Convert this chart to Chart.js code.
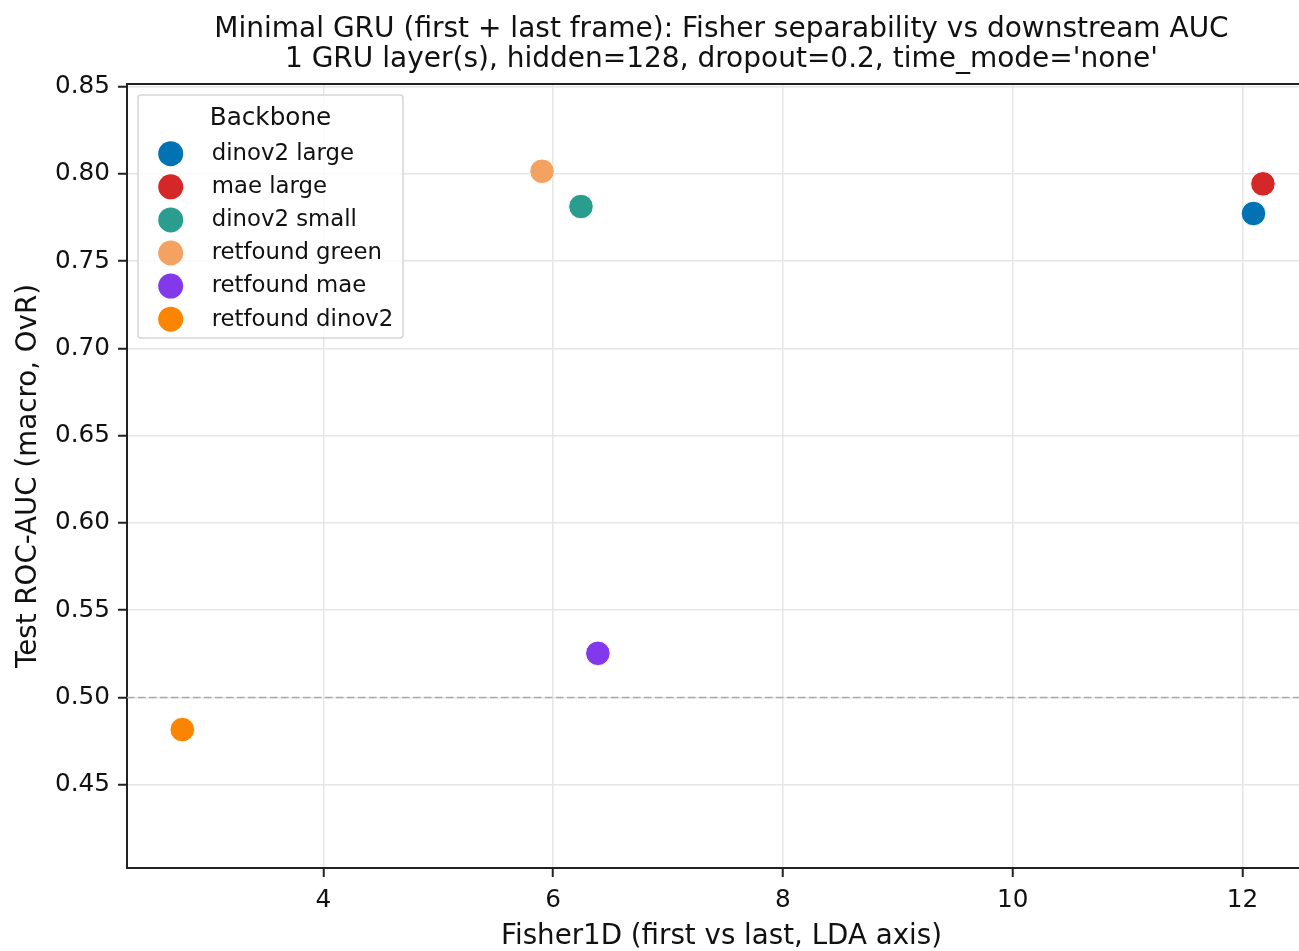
<!DOCTYPE html>
<html>
<head>
<meta charset="utf-8">
<script src="https://cdn.jsdelivr.net/npm/chart.js@4/dist/chart.umd.min.js"></script>
<style>
  html, body { margin: 0; padding: 0; background: #fff; overflow: hidden; }
  /* the original figure is cut off on the right, so the canvas runs past the window */
  #wrap { width: 1316px; height: 951px; position: relative; }
</style>
</head>
<body>
<div id="wrap"><canvas id="scatter"></canvas></div>
<script>
// data
const backbones = ['dinov2 large', 'mae large', 'dinov2 small', 'retfound green', 'retfound mae', 'retfound dinov2'];
const fisher1d = [12.096, 12.178, 6.243, 5.904, 6.39, 2.773];
const testAuc = [0.7773, 0.7943, 0.7813, 0.8015, 0.5253, 0.4816];
const colors = ['#0173b2', '#d62728', '#2a9d8f', '#f4a261', '#8338ec', '#fb8500'];

const xTicks = [4, 6, 8, 10, 12];
const yTicks = [0.45, 0.50, 0.55, 0.60, 0.65, 0.70, 0.75, 0.80, 0.85];
const xRange = [2.292, 12.64];
const yRange = [0.4023, 0.8515];
const chanceLevel = 0.5;

const titleLines = ["Minimal GRU (first + last frame): Fisher separability vs downstream AUC",
                    "1 GRU layer(s), hidden=128, dropout=0.2, time_mode='none'"];
const legendTitle = 'Backbone';

const FONT = "'DejaVu Sans', sans-serif";

const datasets = backbones.map((name, i) => ({
    type: 'scatter',
    label: name,
    data: [{ x: fisher1d[i], y: testAuc[i] }],
    backgroundColor: colors[i],
    borderColor: '#ffffff',
    borderWidth: 1,
    pointRadius: 12.3,
    pointHoverRadius: 12.3,
    order: 1
}));

// dashed chance line across the x range
datasets.push({
    type: 'line',
    label: '_chance',
    data: [{ x: xRange[0], y: chanceLevel }, { x: xRange[1], y: chanceLevel }],
    borderColor: '#aaaaaa',
    borderWidth: 1.5,
    borderDash: [7.5, 3.5],
    pointRadius: 0,
    order: 2
});

// title over the axes, top spine, legend box
const framePlugin = {
    id: 'frame',
    afterDatasetsDraw(chart) {
        const { ctx, chartArea } = chart;
        ctx.save();
        ctx.strokeStyle = '#222';
        ctx.lineWidth = 2;
        ctx.beginPath();
        ctx.moveTo(chartArea.left, chartArea.top);
        ctx.lineTo(chartArea.right, chartArea.top);
        ctx.stroke();
        ctx.restore();
    },
    afterDraw(chart) {
        const { ctx, chartArea } = chart;
        ctx.save();
        ctx.fillStyle = '#111';
        ctx.textAlign = 'center';
        ctx.textBaseline = 'alphabetic';
        ctx.font = '28px ' + FONT;
        const cx = (chartArea.left + chartArea.right) / 2;
        ctx.fillText(titleLines[0], cx, 36.7);
        ctx.fillText(titleLines[1], cx, 66.7);

        const items = chart.data.datasets.filter(d => d.type === 'scatter');
        const box = { x: 138, y: 95, w: 265, h: 243 };
        ctx.fillStyle = 'rgba(255,255,255,0.8)';
        ctx.strokeStyle = '#d6d6d6';
        ctx.lineWidth = 1.5;
        ctx.beginPath();
        ctx.roundRect(box.x, box.y, box.w, box.h, 3);
        ctx.fill();
        ctx.stroke();

        ctx.fillStyle = '#111';
        ctx.font = '24.7px ' + FONT;
        ctx.fillText(legendTitle, box.x + box.w / 2, 124.5);

        ctx.textAlign = 'left';
        ctx.font = '22.8px ' + FONT;
        items.forEach((d, i) => {
            const cy = 153.7 + i * 33.1;
            ctx.beginPath();
            ctx.arc(170.7, cy, 12.5, 0, Math.PI * 2);
            ctx.fillStyle = d.backgroundColor;
            ctx.fill();
            ctx.fillStyle = '#111';
            ctx.fillText(d.label, 211.7, cy + 6.3);
        });
        ctx.restore();
    }
};

new Chart(document.getElementById('scatter'), {
    type: 'scatter',
    data: { datasets },
    options: {
        responsive: true,
        maintainAspectRatio: false,
        animation: false,
        events: [],
        layout: { autoPadding: false, padding: { left: 0, right: 0, top: 84, bottom: 0 } },
        plugins: {
            legend: { display: false },
            tooltip: { enabled: false },
            title: { display: false }
        },
        scales: {
            x: {
                type: 'linear',
                min: xRange[0],
                max: xRange[1],
                afterBuildTicks(s) { s.ticks = xTicks.map(v => ({ value: v })); },
                afterFit(s) { s.height = 83; s.paddingLeft = 0; s.paddingRight = 0; },
                ticks: { color: '#111', font: { family: FONT, size: 24.7 }, padding: 9, callback: v => String(v) },
                grid: { color: '#e6e6e6', lineWidth: 1.5, drawTicks: true, tickLength: 9, tickColor: '#222', tickWidth: 2 },
                border: { display: true, color: '#222', width: 2 },
                title: {
                    display: true,
                    text: 'Fisher1D (first vs last, LDA axis)',
                    color: '#111',
                    font: { family: FONT, size: 27.7, lineHeight: 1.0 },
                    padding: { top: 0, bottom: 0 }
                }
            },
            y: {
                type: 'linear',
                min: yRange[0],
                max: yRange[1],
                afterBuildTicks(s) { s.ticks = yTicks.map(v => ({ value: v })); },
                afterFit(s) { s.width = 127; s.paddingTop = 0; s.paddingBottom = 0; },
                ticks: { color: '#111', font: { family: FONT, size: 24.7 }, padding: 8, callback: v => v.toFixed(2) },
                grid: { color: '#e6e6e6', lineWidth: 1.5, drawTicks: true, tickLength: 9, tickColor: '#222', tickWidth: 2 },
                border: { display: true, color: '#222', width: 2 },
                title: {
                    display: true,
                    text: 'Test ROC-AUC (macro, OvR)',
                    color: '#111',
                    font: { family: FONT, size: 27.7, lineHeight: 1.13 },
                    padding: { top: 13, bottom: 0 }
                }
            }
        }
    },
    plugins: [framePlugin]
});
</script>
</body>
</html>
